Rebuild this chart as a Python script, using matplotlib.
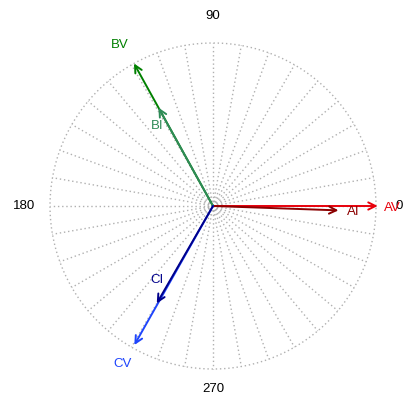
import numpy as np
import matplotlib
matplotlib.use("Agg")
import matplotlib.pyplot as plt

# phasors: name, magnitude (relative to full circle), angle in degrees
names = ["AV", "AI", "BV", "BI", "CV", "CI"]
magnitudes = [1.01, 0.77, 1.0, 0.69, 0.98, 0.69]
angles = [0.0, -2.0, 119.0, 119.0, 240.5, 240.0]
colors = ["#E8000B", "#8B0000", "#008000", "#2E8B57", "#1F45FC", "#00008B"]

# label placement (radius, angle) per phasor
label_r = [1.10, 0.86, 1.14, 0.60, 1.115, 0.57]
label_a = [-0.5, -2.5, 120.0, 124.7, 240.3, 233.0]

tick_angles = [0, 90, 180, 270]
tick_r = [1.14, 1.165, 1.16, 1.12]

plt.rcParams["font.family"] = ["Liberation Sans", "DejaVu Sans"]

fig = plt.figure(figsize=(4.06, 4.03), dpi=100)
ax = fig.add_axes([0, 0, 1, 1])
ax.set_xlim(-213 / 163, 193 / 163)
ax.set_ylim(-197 / 163, 206 / 163)
ax.set_aspect("equal")
ax.axis("off")

grid_kw = dict(color="#B0B0B0", lw=1.0, ls=(0, (1, 2)), zorder=1)
t = np.linspace(0, 2 * np.pi, 400)
ax.plot(np.cos(t), np.sin(t), **grid_kw)
for a in np.arange(0, 360, 10):
    r = np.radians(a)
    ax.plot([0, np.cos(r)], [0, np.sin(r)], **grid_kw)

for a, tr in zip(tick_angles, tick_r):
    r = np.radians(a)
    ax.text(tr * np.cos(r), tr * np.sin(r), str(a), ha="center", va="center",
            fontsize=9.5, color="black", zorder=2)

for n, m, a, c, lr, la in zip(names, magnitudes, angles, colors, label_r, label_a):
    r = np.radians(a)
    ax.annotate("", xy=(m * np.cos(r), m * np.sin(r)), xytext=(0, 0),
                arrowprops=dict(arrowstyle="->", color=c, lw=1.4,
                                mutation_scale=13, shrinkA=0, shrinkB=0),
                zorder=3)
    rl = np.radians(la)
    ax.text(lr * np.cos(rl), lr * np.sin(rl), n, ha="center", va="center",
            fontsize=9.5, color=c, zorder=4)

fig.savefig("out.png", dpi=100, facecolor="white")
